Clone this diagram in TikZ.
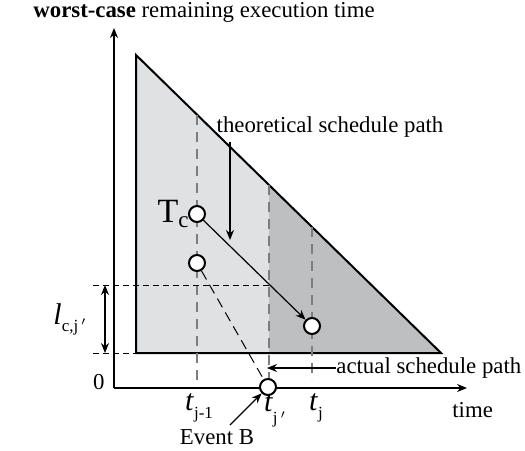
\documentclass[tikz,border=0pt]{standalone}
\usepackage{fontspec}
\setmainfont{Liberation Serif}
\usepackage{tikz}
\usetikzlibrary{arrows.meta,positioning}
\definecolor{lightfill}{RGB}{224,225,227}
\definecolor{darkfill}{RGB}{190,191,193}
\definecolor{guide}{RGB}{125,125,125}

\begin{document}
\begin{tikzpicture}[x=0.5pt,y=-0.5pt,
    ptnode/.style={circle,draw,fill=white,line width=1pt,minimum size=8pt,inner sep=0pt},
    guideline/.style={guide,dash pattern=on 5pt off 3.5pt,line width=0.6pt},
    helpline/.style={black,dash pattern=on 3pt off 2pt,line width=0.5pt},
    arr/.style={-{Stealth[length=5pt,width=4pt]},line width=0.6pt},
    every node/.style={font=\fontsize{11.4}{13}\selectfont}]
  \useasboundingbox (0,0) rectangle (525,450);
  % shaded areas
  \fill[lightfill] (136,55) -- (136,353) -- (441,353) -- cycle;
  \fill[darkfill] (269,185) -- (269,353) -- (441,353) -- cycle;
  \draw[line width=1pt] (136,55) -- (136,353) -- (441,353) -- cycle;
  % guide lines
  \draw[guideline] (197,115) -- (197,380);
  \draw[guideline] (269,185) -- (269,380);
  \draw[guideline] (312,227) -- (312,380);
  \draw[helpline] (93,285) -- (269,285);
  \draw[helpline] (93,353) -- (136,353);
  % axes
  \coordinate (origin) at (114,388);
  \coordinate (ytop) at (114,28);
  \coordinate (xend) at (467,388);
  \draw[arr,line width=0.8pt] (origin) -- (ytop);
  \draw[arr,line width=0.8pt] (origin) -- (xend);
  \node[anchor=south west,inner sep=0pt] (ylabel) at (33,23)
    {\textbf{worst-case} remaining execution time};
  \node[anchor=west,inner sep=0pt] (xlabel) at (452,410) {time};
  \node[anchor=east,inner sep=0pt] (zero) at (105,382) {0};
  % interval l_c,j'
  \coordinate (ltop) at (105,285);
  \coordinate (lbot) at (105,353);
  \draw[{Stealth[length=5pt,width=4pt]}-{Stealth[length=5pt,width=4pt]},line width=0.6pt] (ltop) -- (lbot);
  \node[inner sep=0pt] (lcj) at (70,319)
    {\fontsize{15}{15}\selectfont\textit{l}\raisebox{-0.5ex}{\fontsize{8.5}{8.5}\selectfont c,j\,$'$}};
  % schedule points
  \node[ptnode] (tc) at (197,214) {};
  \node[ptnode] (start) at (197,263) {};
  \node[ptnode] (stop) at (312,326) {};
  \node[ptnode] (tjp) at (268,387) {};
  \draw[arr] (tc) -- (stop);
  \draw[helpline,dash pattern=on 5pt off 3pt] (start) -- (tjp);
  \node[anchor=east,inner sep=0pt] (tclabel) at (189,214)
    {\fontsize{17}{17}\selectfont T\raisebox{-0.3ex}{\fontsize{11.5}{11.5}\selectfont c}};
  % time marks
  \node[inner sep=0pt] (tjm) at (199,408)
    {\fontsize{15}{15}\selectfont\textit{t}\raisebox{-0.6ex}{\fontsize{8.5}{8.5}\selectfont j-1}};
  \node[inner sep=0pt] (tjprime) at (275,411)
    {\fontsize{15}{15}\selectfont\textit{t}\raisebox{-0.9ex}{\fontsize{8.5}{8.5}\selectfont j\,$'$}};
  \node[inner sep=0pt] (tj) at (316,408)
    {\fontsize{15}{15}\selectfont\textit{t}\raisebox{-0.6ex}{\fontsize{8.5}{8.5}\selectfont j}};
  % annotations
  \node[inner sep=0pt] (theo) at (330,127) {theoretical schedule path};
  \coordinate (theotip) at (230,240);
  \draw[arr] (230,142) -- (theotip);
  \node[anchor=west,inner sep=0pt] (actual) at (336,368) {actual schedule path};
  \coordinate (actualtip) at (267,368);
  \draw[arr] (actual.west) -- (actualtip);
  \node[inner sep=0pt] (eventb) at (217,437) {Event B};
  \draw[arr] (230,425) -- (tjp);
\end{tikzpicture}
\end{document}
